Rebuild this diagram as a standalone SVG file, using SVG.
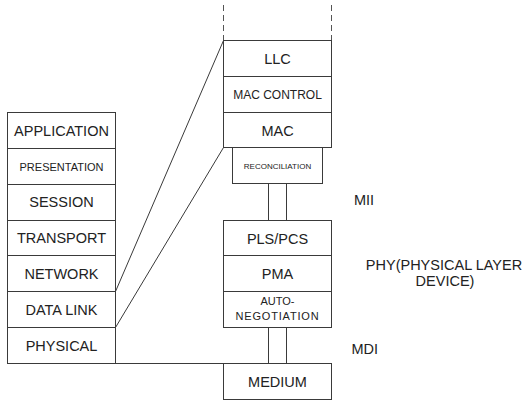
<svg xmlns="http://www.w3.org/2000/svg" width="523" height="401" viewBox="0 0 523 401">
<style>
.box{fill:#fff;stroke:#3a3a3a;stroke-width:1}
.ln{fill:none;stroke:#3a3a3a;stroke-width:1}
.dash{fill:none;stroke:#555;stroke-width:1;stroke-dasharray:6 4}
text{font-family:"Liberation Sans",Arial,sans-serif;fill:#222;text-anchor:middle}
.t14{font-size:14.5px}
.t12{font-size:12px}
.t11{font-size:11px}
.t8{font-size:8px}
.lbl{text-anchor:start;font-size:14.5px}
</style>
<rect width="523" height="401" fill="#fff"/>
<g id="connectors">
<line class="dash" x1="223.5" y1="5" x2="223.5" y2="40.5"/>
<line class="dash" x1="331.5" y1="5" x2="331.5" y2="40.5"/>
<line class="ln" x1="115.5" y1="291.5" x2="223.5" y2="40.5"/>
<line class="ln" x1="115.5" y1="327.5" x2="223.5" y2="147.5"/>
<line class="ln" x1="268.5" y1="183.5" x2="268.5" y2="220.5"/>
<line class="ln" x1="286.5" y1="183.5" x2="286.5" y2="220.5"/>
<line class="ln" x1="268.5" y1="327.5" x2="268.5" y2="363.5"/>
<line class="ln" x1="286.5" y1="327.5" x2="286.5" y2="363.5"/>
<line class="ln" x1="115.5" y1="363.5" x2="223.5" y2="363.5"/>
</g>
<g id="application"><rect class="box" x="7.5" y="112.5" width="108" height="36"/><text class="t14" x="61.5" y="135.5">APPLICATION</text></g>
<g id="presentation"><rect class="box" x="7.5" y="148.5" width="108" height="36"/><text class="t11" x="61.5" y="170.5">PRESENTATION</text></g>
<g id="session"><rect class="box" x="7.5" y="184.5" width="108" height="36"/><text class="t14" x="61.5" y="207">SESSION</text></g>
<g id="transport"><rect class="box" x="7.5" y="220.5" width="108" height="35"/><text class="t14" x="61.5" y="243">TRANSPORT</text></g>
<g id="network"><rect class="box" x="7.5" y="255.5" width="108" height="36"/><text class="t14" x="61.5" y="279">NETWORK</text></g>
<g id="datalink"><rect class="box" x="7.5" y="291.5" width="108" height="36"/><text class="t14" x="61.5" y="315">DATA LINK</text></g>
<g id="physical"><rect class="box" x="7.5" y="327.5" width="108" height="36"/><text class="t14" x="61.5" y="351">PHYSICAL</text></g>
<g id="llc"><rect class="box" x="223.5" y="40.5" width="108" height="36"/><text class="t14" x="277.5" y="64">LLC</text></g>
<g id="maccontrol"><rect class="box" x="223.5" y="76.5" width="108" height="36"/><text class="t12" x="277.5" y="99">MAC CONTROL</text></g>
<g id="mac"><rect class="box" x="223.5" y="112.5" width="108" height="35"/><text class="t14" x="277.5" y="135.5">MAC</text></g>
<g id="reconciliation"><rect class="box" x="232.5" y="147.5" width="90" height="36"/><text class="t8" x="277.5" y="168.5">RECONCILIATION</text></g>
<g id="plspcs"><rect class="box" x="223.5" y="220.5" width="108" height="35"/><text class="t14" x="277.5" y="243.5">PLS/PCS</text></g>
<g id="pma"><rect class="box" x="223.5" y="255.5" width="108" height="36"/><text class="t14" x="277.5" y="279">PMA</text></g>
<g id="autoneg"><rect class="box" x="223.5" y="291.5" width="108" height="36"/><text class="t11" x="277.5" y="305">AUTO-</text><text class="t11" x="277.5" y="320" letter-spacing="0.8">NEGOTIATION</text></g>
<g id="medium"><rect class="box" x="223.5" y="363.5" width="108" height="36"/><text class="t14" x="277.5" y="386.5">MEDIUM</text></g>
<g id="labels">
<text class="lbl" x="354" y="205">MII</text>
<text class="lbl" x="351.5" y="354">MDI</text>
<text class="t14" x="444" y="269.5">PHY(PHYSICAL LAYER</text>
<text class="t14" x="445" y="286">DEVICE)</text>
</g>
</svg>
